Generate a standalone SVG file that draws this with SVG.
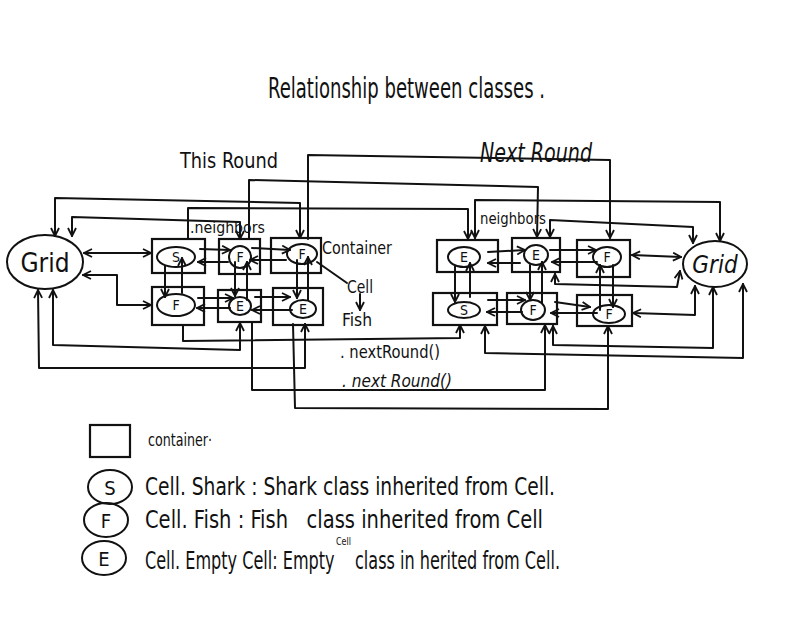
<svg xmlns="http://www.w3.org/2000/svg" width="809" height="618" viewBox="0 0 809 618">
<style>
.c{fill:none;stroke:#111;stroke-width:2;stroke-linejoin:round;stroke-linecap:round}
.b{fill:none;stroke:#111;stroke-width:2.2}
.e{fill:none;stroke:#111;stroke-width:2}
.t{font-family:"Liberation Sans Narrow","DejaVu Sans Condensed","Liberation Sans",sans-serif;fill:#111}
.n{font-family:"Liberation Sans Narrow","DejaVu Sans Condensed","Liberation Sans",sans-serif;fill:#111;font-size:14px;text-anchor:middle}
.d{marker-start:url(#a);marker-end:url(#a)}
.s{marker-end:url(#a)}
</style>
<defs>
<marker id="a" viewBox="0 0 10 10" refX="9" refY="5" markerWidth="10" markerHeight="10" markerUnits="userSpaceOnUse" orient="auto-start-reverse"><path d="M1,1 L9,5 L1,9" fill="none" stroke="#111" stroke-width="1.8"/></marker>
</defs>
<rect width="809" height="618" fill="#fff"/>

<text class="t" x="268" y="98" font-size="28" textLength="277" lengthAdjust="spacingAndGlyphs">Relationship between classes .</text>
<text class="t" x="180" y="168" font-size="22" textLength="98" lengthAdjust="spacingAndGlyphs">This Round</text>
<text class="t" x="480" y="162" font-size="26" font-style="italic" textLength="112" lengthAdjust="spacingAndGlyphs">Next Round</text>

<g id="connectors">
<polyline class="c d" points="84,253 151,253"/>
<polyline class="c d" points="83,275 117,275 117,305 151,305"/>
<polyline class="c d" points="55,236 55,198 300,203 300,238"/>
<polyline class="c d" points="72,236 72,217 240,222 240,239"/>
<polyline class="c d" points="53,290 53,345 240,350 240,323"/>
<polyline class="c d" points="38,290 39,368 305,368 305,324"/>
<polyline class="c s" points="200,249 230,250"/>
<polyline class="c s" points="228,262 198,262"/>
<polyline class="c s" points="252,248 290,250"/>
<polyline class="c s" points="286,260 250,260"/>
<polyline class="c s" points="198,298 233,298"/>
<polyline class="c s" points="230,308 197,308"/>
<polyline class="c s" points="255,297 290,297"/>
<polyline class="c s" points="292,310 252,310"/>
<polyline class="c s" points="165,266 165,297"/>
<polyline class="c s" points="182,293 182,258"/>
<polyline class="c s" points="235,262 235,296"/>
<polyline class="c s" points="247,300 247,262"/>
<polyline class="c s" points="297,260 297,298"/>
<polyline class="c s" points="308,300 308,257"/>
<polyline class="c s" points="308,239 308,155 610,160 610,238"/>
<polyline class="c s" points="249,239 249,180 538,187 537,237"/>
<polyline class="c s" points="188,239 188,208 468,209 468,239"/>
<polyline class="c s" points="183,326 183,341 460,338 460,325"/>
<polyline class="c s" points="252,323 252,390 545,390 545,325"/>
<polyline class="c s" points="293,324 295,408 608,409 608,326"/>
<polyline class="c s" points="488,252 525,250"/>
<polyline class="c s" points="520,263 488,263"/>
<polyline class="c s" points="550,250 596,250"/>
<polyline class="c s" points="597,262 552,262"/>
<polyline class="c s" points="488,300 525,300"/>
<polyline class="c s" points="522,312 487,312"/>
<polyline class="c s" points="555,302 590,307"/>
<polyline class="c s" points="597,313 551,313"/>
<polyline class="c s" points="455,266 455,302"/>
<polyline class="c s" points="470,297 470,263"/>
<polyline class="c s" points="530,265 530,300"/>
<polyline class="c s" points="542,303 542,262"/>
<polyline class="c s" points="600,310 600,265"/>
<polyline class="c s" points="613,265 613,307"/>
<polyline class="c d" points="632,255 681,257"/>
<polyline class="c d" points="680,271 677,287 555,284 555,274"/>
<polyline class="c d" points="695,286 695,315 633,313"/>
<polyline class="c d" points="713,287 713,348 553,345 553,326"/>
<polyline class="c d" points="743,284 743,358 485,353 485,326"/>
<polyline class="c d" points="720,241 720,202 475,200 475,238"/>
<polyline class="c d" points="693,243 693,227 550,220 550,237"/>
<polyline class="c" points="317,262 347,283"/>
<polyline class="c s" points="360,294 360,310"/>
</g>

<text class="t" x="190" y="233" font-size="15" textLength="75" lengthAdjust="spacingAndGlyphs">.neighbors</text>
<text class="t" x="480" y="224" font-size="15" textLength="66" lengthAdjust="spacingAndGlyphs">neighbors</text>
<text class="t" x="322" y="254" font-size="18" textLength="70" lengthAdjust="spacingAndGlyphs">Container</text>
<text class="t" x="347" y="293" font-size="18" textLength="26" lengthAdjust="spacingAndGlyphs">Cell</text>
<text class="t" x="342" y="326" font-size="18" textLength="30" lengthAdjust="spacingAndGlyphs">Fish</text>
<text class="t" x="340" y="358" font-size="17" textLength="100" lengthAdjust="spacingAndGlyphs">. nextRound()</text>
<text class="t" x="342" y="387" font-size="17" font-style="italic" textLength="110" lengthAdjust="spacingAndGlyphs">. next Round()</text>

<g id="grid-left"><ellipse class="e" cx="45" cy="262" rx="38" ry="27"/><text class="t" x="45" y="272" font-size="26" text-anchor="middle">Grid</text></g>
<g id="this-s1"><rect class="b" x="152" y="239" width="53" height="34"/><ellipse class="e" cx="176" cy="257" rx="19" ry="10"/><text class="n" x="176" y="262">S</text></g>
<g id="this-f1"><rect class="b" x="219" y="239" width="41" height="35"/><ellipse class="e" cx="240" cy="257" rx="11" ry="11"/><text class="n" x="240" y="262">F</text></g>
<g id="this-f2"><rect class="b" x="271" y="238" width="50" height="35"/><ellipse class="e" cx="302" cy="254" rx="15" ry="10"/><text class="n" x="302" y="259">F</text></g>
<g id="this-f3"><rect class="b" x="152" y="287" width="52" height="38"/><ellipse class="e" cx="176" cy="305" rx="19" ry="11"/><text class="n" x="176" y="310">F</text></g>
<g id="this-e1"><rect class="b" x="218" y="290" width="43" height="32"/><ellipse class="e" cx="240" cy="306" rx="11" ry="9"/><text class="n" x="240" y="311">E</text></g>
<g id="this-e2"><rect class="b" x="273" y="288" width="50" height="37"/><ellipse class="e" cx="303" cy="309" rx="13" ry="9"/><text class="n" x="303" y="314">E</text></g>

<g id="next-e1"><rect class="b" x="437" y="240" width="61" height="32"/><ellipse class="e" cx="464" cy="257" rx="16" ry="10"/><text class="n" x="464" y="262">E</text></g>
<g id="next-e2"><rect class="b" x="512" y="238" width="48" height="34"/><ellipse class="e" cx="536" cy="255" rx="12" ry="10"/><text class="n" x="536" y="260">E</text></g>
<g id="next-f1"><rect class="b" x="577" y="240" width="53" height="37"/><ellipse class="e" cx="607" cy="257" rx="14" ry="10"/><text class="n" x="607" y="262">F</text></g>
<g id="next-s1"><rect class="b" x="433" y="293" width="64" height="32"/><ellipse class="e" cx="464" cy="310" rx="16" ry="8"/><text class="n" x="464" y="315">S</text></g>
<g id="next-f2"><rect class="b" x="507" y="293" width="50" height="31"/><ellipse class="e" cx="533" cy="310" rx="12" ry="10"/><text class="n" x="533" y="315">F</text></g>
<g id="next-f3"><rect class="b" x="577" y="295" width="55" height="31"/><ellipse class="e" cx="609" cy="314" rx="16" ry="9"/><text class="n" x="609" y="319">F</text></g>
<g id="grid-right"><ellipse class="e" cx="715" cy="264" rx="32" ry="23"/><text class="t" x="715" y="273" font-size="24" font-style="italic" text-anchor="middle">Grid</text></g>

<g id="legend">
<rect class="b" x="90" y="425" width="40" height="32"/>
<text class="t" x="148" y="446" font-size="18" textLength="64" lengthAdjust="spacingAndGlyphs">container·</text>
<ellipse class="e" cx="110" cy="487" rx="22" ry="17"/><text class="t" x="110" y="495" font-size="20" text-anchor="middle">S</text>
<text class="t" x="145" y="495" font-size="25" textLength="410" lengthAdjust="spacingAndGlyphs">Cell. Shark : Shark class inherited from Cell.</text>
<ellipse class="e" cx="106" cy="520" rx="22" ry="17"/><text class="t" x="106" y="528" font-size="20" text-anchor="middle">F</text>
<text class="t" x="145" y="528" font-size="24" textLength="398" lengthAdjust="spacingAndGlyphs">Cell. Fish : Fish &#160; class inherited from Cell</text>
<ellipse class="e" cx="104" cy="558" rx="22" ry="17"/><text class="t" x="104" y="566" font-size="20" text-anchor="middle">E</text>
<text class="t" x="145" y="569" font-size="24" textLength="415" lengthAdjust="spacingAndGlyphs">Cell. Empty Cell: Empty &#160;&#160; class in herited from Cell.</text>
<text class="t" x="336" y="545" font-size="10" textLength="15" lengthAdjust="spacingAndGlyphs">Cell</text>
</g>
</svg>
